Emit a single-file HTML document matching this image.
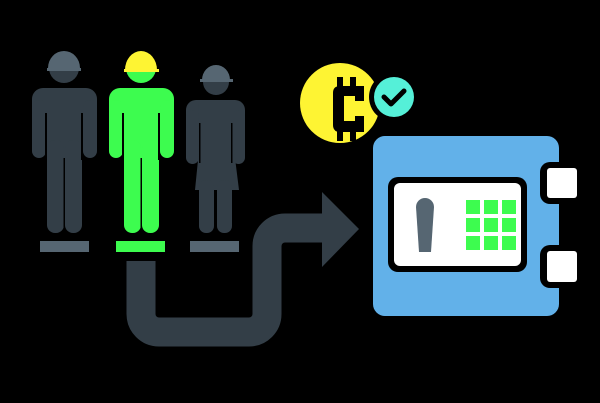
<!DOCTYPE html><html><head><style>html,body{margin:0;padding:0;background:#000;width:600px;height:403px;overflow:hidden}</style></head><body>
<svg width="600" height="403" viewBox="0 0 600 403" xmlns="http://www.w3.org/2000/svg">
<rect width="600" height="403" fill="#000"/>
<defs>
<g id="man">
<rect x="-32" y="88" width="65" height="30" rx="11"/>
<rect x="-32" y="100" width="14" height="58" rx="7"/>
<rect x="19" y="100" width="14" height="58" rx="7"/>
<rect x="-19" y="95" width="38" height="65"/>
<rect x="-17" y="140" width="17" height="93" rx="8"/>
<rect x="1" y="140" width="17" height="93" rx="8"/>
<circle cx="0" cy="68" r="15"/>
</g>
<g id="gaps" fill="#000">
<rect x="-19" y="113" width="2" height="47"/>
<rect x="17" y="113" width="2" height="47"/>
<rect x="-0.5" y="158" width="1.5" height="75"/>
</g>
</defs>
<!-- person 1 -->
<g fill="#333e47"><use href="#man" x="64"/></g>
<use href="#gaps" x="64"/>
<path d="M48 68 A16 17 0 0 1 80 68 Z" fill="#566672"/><rect x="47" y="68" width="34" height="3" fill="#566672"/>
<rect x="40" y="241" width="49" height="11" fill="#566672"/>
<!-- person 2 -->
<g fill="#3dfc4f"><use href="#man" x="141"/></g>
<use href="#gaps" x="141"/>
<path d="M125 70 A16 19 0 0 1 157 70 Z" fill="#fef433"/><rect x="124" y="69" width="35" height="3" fill="#fef433"/>
<rect x="116" y="241" width="49" height="11" fill="#3dfc4f"/>
<!-- person 3 -->
<g fill="#333e47">
<circle cx="216" cy="82" r="13"/>
<rect x="186" y="100" width="59" height="28" rx="10"/>
<rect x="186" y="110" width="13" height="54" rx="6.5"/>
<rect x="232" y="110" width="13" height="54" rx="6.5"/>
<path d="M198 104 L234 104 L234 150 L239 190 L195 190 L199 150 Z"/>
<rect x="199" y="180" width="15" height="53" rx="7"/>
<rect x="217" y="180" width="15" height="53" rx="7"/>
</g>
<rect x="199" y="123" width="1.5" height="40" fill="#000"/>
<rect x="231" y="123" width="1.5" height="40" fill="#000"/>
<path d="M202 80 A14 15 0 0 1 230 80 Z" fill="#566672"/><rect x="200" y="79" width="33" height="3" fill="#566672"/>
<rect x="190" y="241" width="49" height="11" fill="#566672"/>
<!-- arrow -->
<path d="M141 261 L141 314 A18 18 0 0 0 159 332 L249 332 A18 18 0 0 0 267 314 L267 246 A18 18 0 0 1 285 228 L324 228" fill="none" stroke="#333e47" stroke-width="29"/>
<path d="M322 192 L359 229 L322 267 Z" fill="#333e47"/>
<!-- bitcoin -->
<circle cx="340" cy="103" r="40" fill="#fef433"/>
<g fill="#000">
<rect x="337" y="77" width="6" height="12"/><rect x="350" y="77" width="6" height="12"/>
<rect x="337" y="129" width="6" height="12"/><rect x="350" y="129" width="6" height="12"/>
<path d="M340 86 L364 86 L364 101 L355 101 L355 96 L344 96 L344 121 L355 121 L355 116 L364 116 L364 132 L340 132 Q333 132 333 125 L333 93 Q333 86 340 86 Z"/>
</g>
<circle cx="394" cy="97" r="25" fill="#000"/>
<circle cx="394" cy="97" r="20" fill="#55f0d8"/>
<path d="M384 97 L391 104 L404 91" fill="none" stroke="#000" stroke-width="5" stroke-linecap="round" stroke-linejoin="round"/>
<!-- safe -->
<rect x="369" y="132" width="194" height="188" rx="15" fill="#000"/>
<rect x="373" y="136" width="186" height="180" rx="12" fill="#62b1e9"/>
<rect x="540" y="162" width="43" height="42" rx="10" fill="#000"/>
<rect x="540" y="245" width="43" height="43" rx="10" fill="#000"/>
<rect x="547" y="168" width="30" height="30" rx="3" fill="#fff"/>
<rect x="547" y="251" width="30" height="31" rx="3" fill="#fff"/>
<rect x="388" y="177" width="139" height="95" rx="10" fill="#000"/>
<rect x="394" y="183" width="127" height="83" rx="6" fill="#fff"/>
<path d="M416 207 A9 9 0 0 1 434 207 L431 252 L419 252 Z" fill="#566672"/>
<g fill="#3dfc4f">
<rect x="466" y="200" width="14" height="14"/><rect x="484" y="200" width="14" height="14"/><rect x="502" y="200" width="14" height="14"/>
<rect x="466" y="218" width="14" height="14"/><rect x="484" y="218" width="14" height="14"/><rect x="502" y="218" width="14" height="14"/>
<rect x="466" y="236" width="14" height="14"/><rect x="484" y="236" width="14" height="14"/><rect x="502" y="236" width="14" height="14"/>
</g>
</svg>
</body></html>
